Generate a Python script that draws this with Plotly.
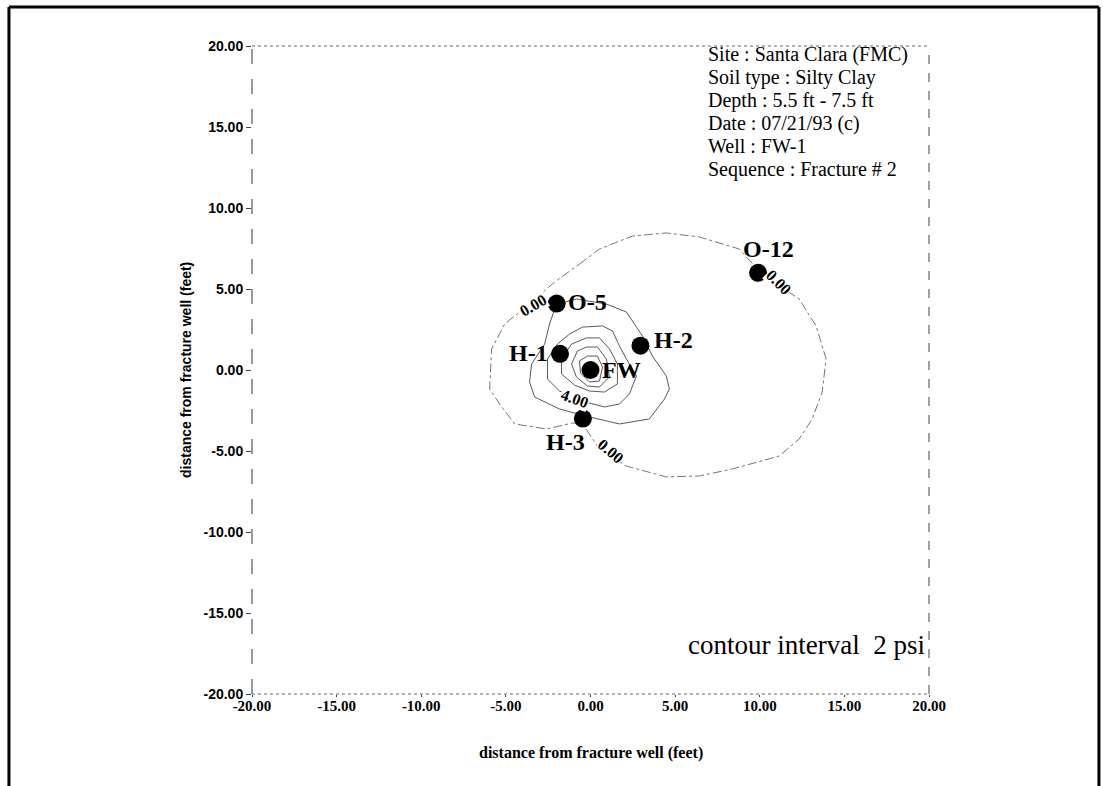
import plotly.graph_objects as go

# ---- data (feet) ----
well_names = ["FW", "H-1", "H-2", "H-3", "O-5", "O-12"]
well_x = [0.0, -1.8, 2.95, -0.45, -2.0, 9.9]
well_y = [0.0, 1.0, 1.5, -3.0, 4.1, 6.0]

# contour polylines (closed loops)
c0_x = [-0.65, 0.53, 2.48, 4.48, 6.43, 8.79, 9.85, 11.45, 12.33, 13.33, 13.92, 13.69, 13.10, 12.33, 11.15, 8.38, 6.43, 4.48, 2.12, 0.53, -0.47, -1.06, -2.60, -4.48, -5.37, -5.96, -5.84, -5.07, -3.60, -2.12, -0.65]
c0_y = [6.54, 7.47, 8.27, 8.46, 8.21, 7.47, 6.23, 4.99, 4.38, 2.72, 0.68, -1.36, -3.02, -4.26, -5.31, -6.11, -6.54, -6.60, -5.93, -4.88, -3.33, -3.27, -3.64, -3.33, -2.10, -1.17, 1.30, 2.84, 4.07, 5.43, 6.54]

c2_x = [-2.01, -0.83, 0.94, 2.12, 3.07, 3.66, 4.48, 4.66, 4.37, 3.48, 1.71, -0.06, -1.83, -3.30, -3.60, -3.48, -2.71, -2.42, -2.01]
c2_y = [4.07, 4.38, 4.07, 3.58, 2.10, 0.86, -0.37, -1.17, -1.79, -3.02, -3.33, -2.90, -2.41, -1.67, -0.74, 0.37, 1.60, 2.84, 4.07]

c4_x = [-0.47, 0.71, 1.30, 1.71, 2.12, 2.71, 2.30, 1.71, 0.83, -0.06, -1.83, -2.54, -2.54, -1.95, -1.24, -0.47]
c4_y = [2.65, 2.72, 2.41, 1.48, 0.68, -0.37, -1.48, -2.10, -2.28, -2.04, -1.30, -0.56, 0.68, 1.60, 2.22, 2.65]

c6_x = [-0.24, 0.53, 1.12, 1.59, 1.59, 0.83, -0.06, -0.94, -1.71, -1.71, -1.12, -0.24]
c6_y = [1.98, 1.98, 1.30, 0.37, -0.86, -1.36, -1.30, -0.93, -0.25, 0.68, 1.60, 1.98]

c8_x = [-0.24, 0.41, 0.94, 1.12, 0.53, -0.18, -0.83, -1.12, -0.77, -0.24]
c8_y = [1.42, 1.42, 0.68, -0.43, -1.05, -0.99, -0.43, 0.37, 1.17, 1.42]

c10_x = [-0.18, 0.41, 0.71, 0.53, -0.06, -0.59, -0.65, -0.18]
c10_y = [0.86, 0.86, 0.19, -0.68, -0.74, -0.19, 0.56, 0.86]

label_text = ["0.00", "0.00", "0.00", "4.00"]
label_x = [-3.42, 11.15, 1.24, -0.94]
label_y = [3.99, 5.43, -5.0, -1.73]
label_angle = [-30, 45, 40, 20]

info_lines = ["Site : Santa Clara (FMC)", "Soil type : Silty Clay", "Depth : 5.5 ft - 7.5 ft",
              "Date : 07/21/93 (c)", "Well : FW-1", "Sequence : Fracture # 2"]
info_y = [19.5, 18.08, 16.66, 15.24, 13.82, 12.4]
info_x = 6.9

tick_vals = [-20, -15, -10, -5, 0, 5, 10, 15, 20]
tick_text = ["-20.00", "-15.00", "-10.00", "-5.00", "0.00", "5.00", "10.00", "15.00", "20.00"]

fig = go.Figure()

fig.add_trace(go.Scatter(x=c0_x, y=c0_y, mode="lines",
                         line=dict(color="#777", width=1, dash="dashdot"), hoverinfo="skip"))
for cx, cy in [(c2_x, c2_y), (c4_x, c4_y), (c6_x, c6_y), (c8_x, c8_y), (c10_x, c10_y)]:
    fig.add_trace(go.Scatter(x=cx, y=cy, mode="lines",
                             line=dict(color="#5a5a5a", width=1), hoverinfo="skip"))

# contour labels (white background to break the line)
for t, lx, ly, a in zip(label_text, label_x, label_y, label_angle):
    fig.add_annotation(x=lx, y=ly, text=f"<b>{t}</b>", showarrow=False, textangle=a,
                       font=dict(family="Liberation Serif", size=16, color="black"),
                       bgcolor="white", borderpad=0)

fig.add_trace(go.Scatter(x=well_x, y=well_y, mode="markers",
                         marker=dict(color="black", size=18), hoverinfo="skip"))

# well labels
label_pos = {
    "FW": dict(xanchor="left", yanchor="middle", xshift=9, yshift=0),
    "H-1": dict(xanchor="right", yanchor="middle", xshift=-10, yshift=1),
    "H-2": dict(xanchor="left", yanchor="middle", xshift=12, yshift=6),
    "H-3": dict(xanchor="right", yanchor="top", xshift=4, yshift=-8),
    "O-5": dict(xanchor="left", yanchor="middle", xshift=9, yshift=2),
    "O-12": dict(xanchor="center", yanchor="bottom", xshift=10, yshift=9),
}
for n, wx, wy in zip(well_names, well_x, well_y):
    fig.add_annotation(x=wx, y=wy, text=f"<b>{n}</b>", showarrow=False,
                       font=dict(family="Liberation Serif", size=24, color="black"),
                       **label_pos[n])

for line, iy in zip(info_lines, info_y):
    fig.add_annotation(x=info_x, y=iy, text=line, showarrow=False, xanchor="left",
                       yanchor="middle", borderpad=0,
                       font=dict(family="Liberation Serif", size=20, color="black"))

fig.add_annotation(x=19.9, y=-17.0, text="contour interval  2 psi", showarrow=False,
                   xanchor="right", yanchor="middle",
                   font=dict(family="Liberation Serif", size=27, color="black"))

# axis titles
fig.add_annotation(xref="paper", yref="paper", x=0.5, y=-0.091, xanchor="center", yanchor="middle",
                   text="<b>distance from fracture well (feet)</b>", showarrow=False,
                   font=dict(family="Liberation Serif", size=16, color="black"))
fig.add_annotation(xref="paper", yref="paper", x=-0.0975, y=0.5, xanchor="center", yanchor="middle",
                   textangle=-90,
                   text="<b>distance from fracture well (feet)</b>", showarrow=False,
                   font=dict(family="Liberation Sans", size=14, color="black"))

# plot frame (scanned dashed look)
frame = [
    dict(x0=0, x1=0, y0=0, y1=1, dash="longdash", color="#333"),
    dict(x0=0, x1=1, y0=1, y1=1, dash="dot", color="#666"),
    dict(x0=1, x1=1, y0=0, y1=1, dash="dash", color="#444"),
    dict(x0=0, x1=1, y0=0, y1=0, dash="dot", color="#666"),
]
for f in frame:
    fig.add_shape(type="line", xref="paper", yref="paper", x0=f["x0"], x1=f["x1"],
                  y0=f["y0"], y1=f["y1"], line=dict(color=f["color"], width=1, dash=f["dash"]))

# page border
for x0, x1, y0, y1 in [(-0.359, 1.251, 1.06, 1.06), (-0.359, -0.359, -0.16, 1.06),
                       (1.251, 1.251, -0.16, 1.06)]:
    fig.add_shape(type="line", xref="paper", yref="paper", x0=x0, x1=x1, y0=y0, y1=y1,
                  line=dict(color="black", width=3))

fig.update_xaxes(range=[-20, 20], tickvals=tick_vals, ticktext=tick_text, showgrid=False,
                 zeroline=False, showline=False, ticks="outside", ticklen=2, tickcolor="#444",
                 ticklabelstandoff=-4,
                 tickfont=dict(family="Liberation Serif", size=15, color="black", weight="bold"))
fig.update_yaxes(range=[-20, 20], tickvals=tick_vals, ticktext=tick_text, showgrid=False,
                 zeroline=False, showline=False, ticks="outside", ticklen=5, tickcolor="#444",
                 tickfont=dict(family="Liberation Sans", size=14, color="black", weight="bold"))

fig.update_layout(width=1103, height=786, showlegend=False,
                  paper_bgcolor="white", plot_bgcolor="white",
                  margin=dict(l=252, r=174, t=46, b=92))

fig.write_html("out.html")
